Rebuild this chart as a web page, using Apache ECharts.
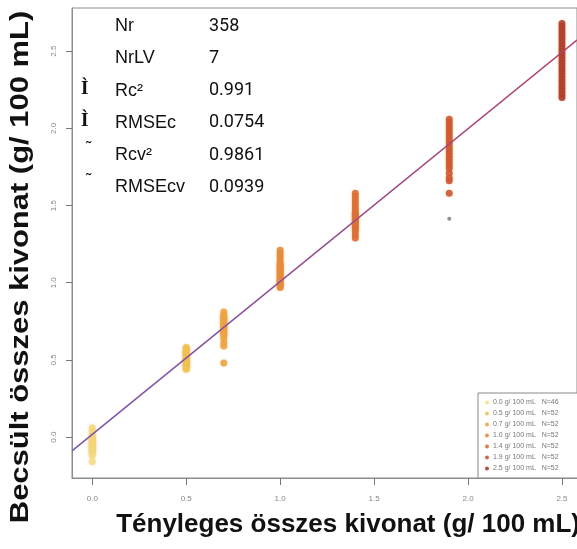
<!DOCTYPE html>
<html>
<head>
<meta charset="utf-8">
<script src="https://cdn.jsdelivr.net/npm/echarts@6/dist/echarts.min.js"></script>
<style>
html,body{margin:0;padding:0;background:#fff;}
#chart{width:577px;height:549px;}
</style>
</head>
<body>
<div id="chart"></div>
<script>
// ---- data ----
const groupX = [0.0, 0.5, 0.7, 1.0, 1.4, 1.9, 2.5];
const groupNames = ['0.0 g/ 100 mL   N=46', '0.5 g/ 100 mL   N=52', '0.7 g/ 100 mL   N=52', '1.0 g/ 100 mL   N=52', '1.4 g/ 100 mL   N=52', '1.9 g/ 100 mL   N=52', '2.5 g/ 100 mL   N=52'];
const groupColors = ['#f3dc7e', '#f1c452', '#eda443', '#e68a3c', '#dc6c34', '#cd5530', '#ae3a2c'];
const pred00 = [0.06, 0.04, 0.02, 0.0, -0.01, -0.02, -0.03, -0.04, -0.05, -0.06, -0.07, -0.08, -0.09, -0.10, -0.12, -0.16];
const pred05 = [0.58, 0.57, 0.56, 0.55, 0.54, 0.53, 0.52, 0.51, 0.50, 0.49, 0.48, 0.47, 0.46, 0.45, 0.44];
const pred07 = [0.81, 0.79, 0.78, 0.77, 0.76, 0.75, 0.74, 0.73, 0.72, 0.71, 0.70, 0.69, 0.68, 0.67, 0.66, 0.64, 0.61, 0.59, 0.48];
const pred10 = [1.21, 1.19, 1.17, 1.15, 1.13, 1.12, 1.11, 1.10, 1.09, 1.08, 1.07, 1.06, 1.05, 1.04, 1.03, 1.02, 1.01, 1.00, 0.99, 0.98, 0.97];
const pred14 = [1.58, 1.56, 1.54, 1.52, 1.50, 1.48, 1.46, 1.45, 1.44, 1.43, 1.42, 1.41, 1.40, 1.39, 1.38, 1.37, 1.36, 1.35, 1.33, 1.31, 1.29];
const pred19 = [2.06, 2.04, 2.02, 2.00, 1.98, 1.96, 1.94, 1.92, 1.90, 1.88, 1.86, 1.84, 1.82, 1.80, 1.78, 1.76, 1.74, 1.71, 1.68, 1.66, 1.58];
const pred25 = [2.68, 2.66, 2.64, 2.62, 2.60, 2.58, 2.56, 2.54, 2.52, 2.50, 2.48, 2.46, 2.44, 2.42, 2.40, 2.38, 2.36, 2.34, 2.32, 2.30, 2.28, 2.26, 2.24, 2.22, 2.20];
const outlierX = [1.9];
const outlierY = [1.415];
const fitSlope = 0.99;
const fitIntercept = 0.018;
const xTicks = [0, 0.5, 1, 1.5, 2, 2.5];
const yTicks = [0, 0.5, 1, 1.5, 2, 2.5];
const statLabels = ['Nr', 'NrLV', 'Rc²', 'RMSEc', 'Rcv²', 'RMSEcv'];
const statValues = ['358', '7', '0.991', '0.0754', '0.9861', '0.0939'];
const statMarks = ['', '', 'Ì', 'Ì', '˜', '˜'];
const xTitle = 'Tényleges összes kivonat (g/ 100 mL)';
const yTitle = 'Becsült összes kivonat (g/ 100 mL)';

const groupValues = [pred00, pred05, pred07, pred10, pred14, pred19, pred25];
const X_MIN = -0.108, X_MAX = 2.58, Y_MIN = -0.265, Y_MAX = 2.78;

const chart = echarts.init(document.getElementById('chart'), null, {renderer: 'canvas'});

const series = groupValues.map((vals, i) => ({
  name: groupNames[i],
  type: 'scatter',
  symbol: 'circle',
  symbolSize: 7,
  itemStyle: {color: groupColors[i], opacity: i === 0 ? 0.8 : 0.9,
    shadowBlur: 3, shadowColor: 'rgba(240,170,80,0.35)'},
  data: vals.map(v => [groupX[i], v]),
  z: 3
}));
series.push({
  name: 'outlier', type: 'scatter', symbol: 'circle', symbolSize: 4,
  itemStyle: {color: '#7d6f6c'},
  data: outlierX.map((x, i) => [x, outlierY[i]]), z: 3
});
series.push({
  name: 'fit', type: 'line', showSymbol: false, silent: true,
  lineStyle: {width: 1.6, color: new echarts.graphic.LinearGradient(0, 0, 1, 0, [
    {offset: 0, color: '#7858b0'}, {offset: 1, color: '#b2406c'}])},
  data: [[X_MIN, fitIntercept + fitSlope * X_MIN], [X_MAX, fitIntercept + fitSlope * X_MAX]],
  z: 4
});

const graphics = [];
const rowY0 = 27, rowDy = 32.3;
statLabels.forEach((s, i) => {
  const y = rowY0 + i * rowDy;
  graphics.push({type: 'text', left: 115, top: y - 10, style: {text: s, font: '18px "Liberation Sans", Arial, sans-serif', fill: '#111'}});
  graphics.push({type: 'text', left: 209, top: y - 10, style: {text: statValues[i], font: '18px Roboto, "Liberation Sans", sans-serif', fill: '#111'}});
  if (statMarks[i]) {
    const isI = statMarks[i] === 'Ì';
    graphics.push({type: 'text', left: isI ? 81 : 86, top: isI ? y - 12 : y - 16,
      style: {text: statMarks[i], font: isI ? 'bold 19px "Liberation Serif", serif' : '16px "Liberation Sans", sans-serif', fill: '#111'}});
  }
});
graphics.push({type: 'text', right: -3, top: 512, style: {text: xTitle, font: 'bold 26px "Liberation Sans", Arial, sans-serif', fill: '#111'}});
graphics.push({type: 'text', x: 8, y: 267, rotation: Math.PI / 2, scaleX: 1.19,
  style: {text: yTitle, font: 'bold 26px "Liberation Sans", Arial, sans-serif', fill: '#111', align: 'center', verticalAlign: 'top'}});

chart.setOption({
  animation: false,
  backgroundColor: '#ffffff',
  grid: {left: 72, right: -2, top: 8, bottom: 71, show: true, borderColor: '#8c8c8c', borderWidth: 1},
  xAxis: {
    type: 'value', min: X_MIN, max: X_MAX,
    splitLine: {show: false},
    axisLine: {show: true, onZero: false, lineStyle: {color: '#8c8c8c', width: 1}},
    axisTick: {show: true, length: 7, lineStyle: {color: '#777'}, customValues: xTicks},
    axisLabel: {show: true, margin: 17, fontSize: 8, color: '#888', customValues: xTicks,
      formatter: v => v.toFixed(1)}
  },
  yAxis: {
    type: 'value', min: Y_MIN, max: Y_MAX,
    splitLine: {show: false},
    axisLine: {show: true, onZero: false, lineStyle: {color: '#8c8c8c', width: 1}},
    axisTick: {show: true, length: 6, lineStyle: {color: '#777'}, customValues: yTicks},
    axisLabel: {show: true, margin: 14, fontSize: 8, color: '#888', rotate: 90, customValues: yTicks,
      formatter: v => v.toFixed(1)}
  },
  legend: {
    data: groupNames,
    orient: 'vertical',
    left: 478, top: 393,
    icon: 'circle', itemWidth: 4, itemHeight: 4, itemGap: 4,
    textStyle: {fontSize: 7, color: '#777', padding: [0, 0, 0, -1]},
    borderColor: '#888', borderWidth: 1, padding: [6, 40, 6, 7],
    backgroundColor: '#fff'
  },
  graphic: graphics,
  series: series
});
</script>
</body>
</html>
